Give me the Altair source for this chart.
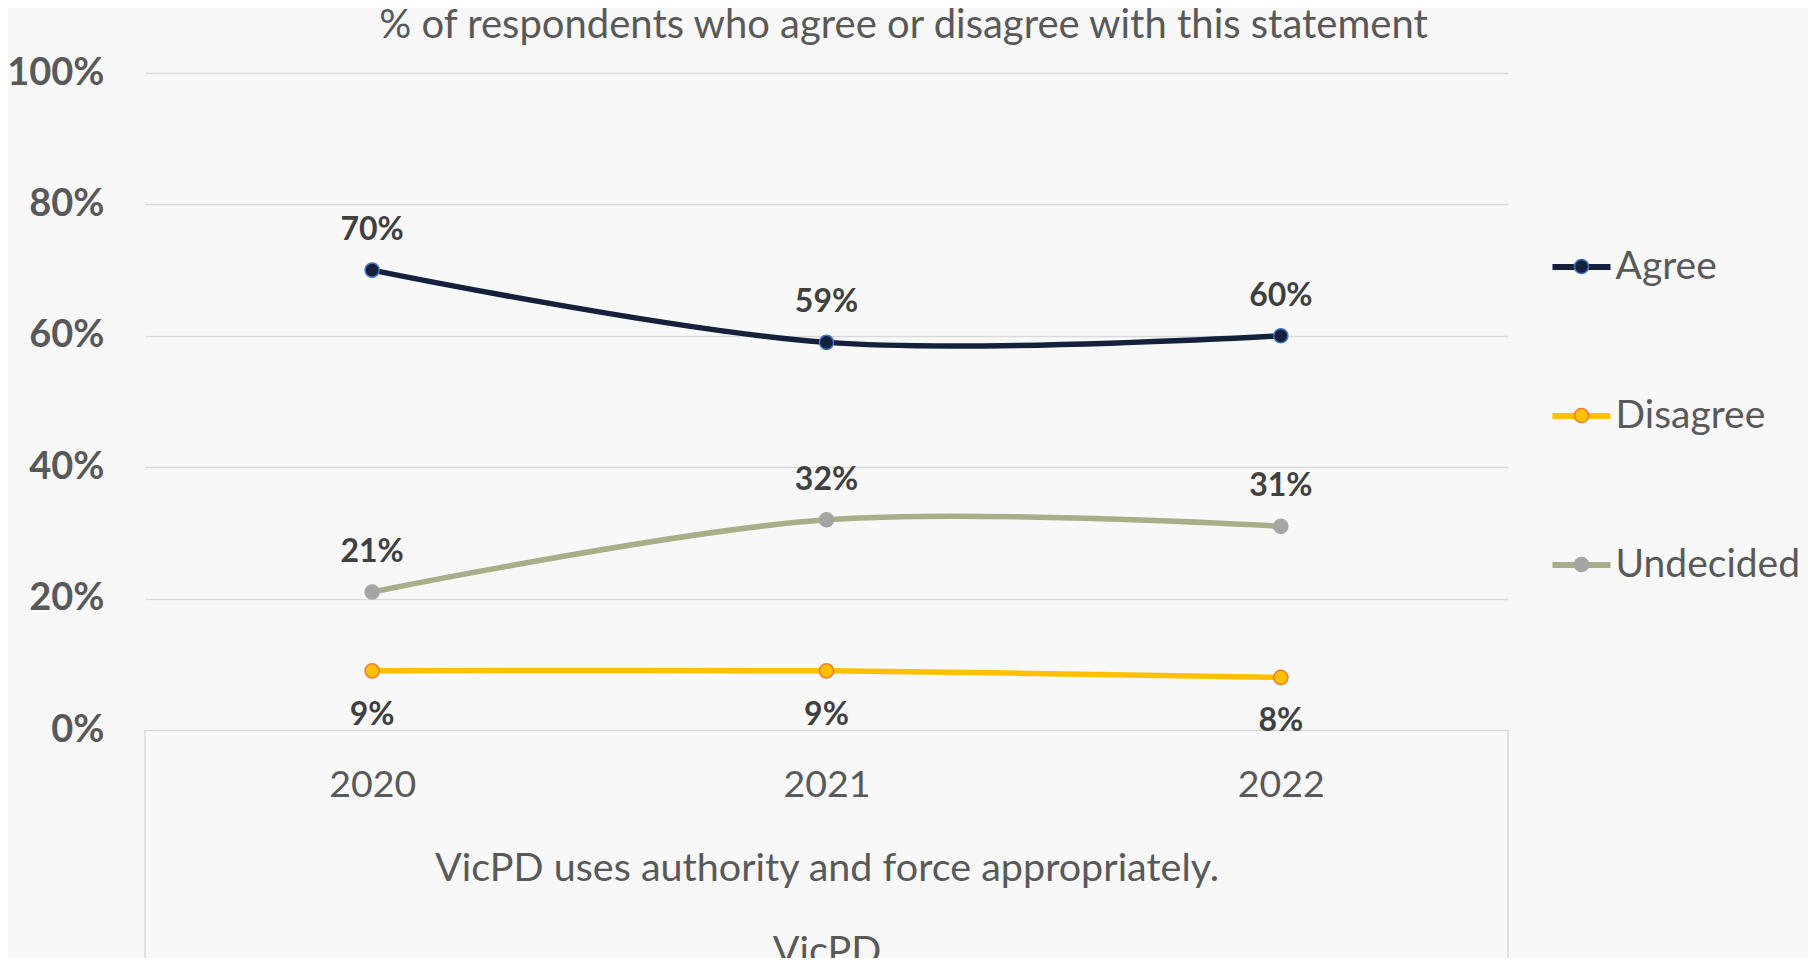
import altair as alt
import pandas as pd

years = ["2020", "2021", "2022"]
series = ["Agree", "Disagree", "Undecided"]
agree = [0.70, 0.59, 0.60]
disagree = [0.09, 0.09, 0.08]
undecided = [0.21, 0.32, 0.31]

line_colors = ["#13213C", "#FFC000", "#A6AF87"]
marker_fills = ["#13213C", "#FFC000", "#A5A5A5"]
marker_strokes = ["#4472C4", "#ED7D31", "#A5A5A5"]

title_text = "% of respondents who agree or disagree with this statement"
x_title = ["VicPD uses authority and force appropriately.", "VicPD"]

rows = []
for s, vals in zip(series, [agree, disagree, undecided]):
    for yr, v in zip(years, vals):
        rows.append({"year": yr, "series": s, "series_pt": s, "value": v,
                     "label": f"{round(v * 100)}%"})
df = pd.DataFrame(rows)

W, H = 1363, 657
FONT = "Lato"
GREY = "#595959"

x_enc = alt.X("year:N", scale=alt.Scale(type="point", padding=0.5),
              axis=alt.Axis(title=x_title, labelAngle=0, ticks=False, tickSize=0,
                            domain=False, grid=False, labelFont=FONT, labelFontSize=37.5,
                            labelColor=GREY, labelPadding=36, titleFont=FONT,
                            titleFontSize=39.5, titleFontWeight="normal", titleColor=GREY,
                            titlePadding=46, titleLineHeight=83))
y_enc = alt.Y("value:Q", scale=alt.Scale(domain=[0, 1], nice=False),
              axis=alt.Axis(title=None, format=".0%", values=[0, 0.2, 0.4, 0.6, 0.8, 1.0],
                            ticks=False, domain=False, grid=True, gridColor="#D9D9D9",
                            gridWidth=1.5, labelFont=FONT, labelFontSize=38,
                            labelFontWeight="bold", labelColor=GREY, labelPadding=41))

base = alt.Chart(df)

lines = base.mark_line(strokeWidth=5.5, interpolate="catmull-rom").encode(
    x=x_enc, y=y_enc,
    color=alt.Color("series:N", scale=alt.Scale(domain=series, range=line_colors),
                    legend=alt.Legend(orient="none", legendX=1404.5, legendY=162, title=None,
                                      symbolType="stroke", symbolSize=3364,
                                      symbolStrokeWidth=6, labelFont=FONT, labelFontSize=39,
                                      labelColor=GREY, labelOffset=2, labelLimit=400,
                                      rowPadding=97, padding=0)),
)

pt_legend = alt.Legend(orient="none", legendX=1417, legendY=174, title=None,
                       symbolSize=200, symbolStrokeWidth=1.5, labelFont=FONT,
                       labelFontSize=39, labelExpr="''", labelLimit=400, rowPadding=109,
                       padding=0)
points = base.mark_point(filled=True, shape="circle", size=200, strokeWidth=1.5,
                         opacity=1).encode(
    x=x_enc, y=y_enc,
    fill=alt.Fill("series_pt:N", scale=alt.Scale(domain=series, range=marker_fills),
                  legend=pt_legend),
    stroke=alt.Stroke("series_pt:N", scale=alt.Scale(domain=series, range=marker_strokes),
                      legend=pt_legend),
)

text_style = dict(font=FONT, fontSize=32, fontWeight="bold", color="#404040",
                  baseline="middle", align="center")
labels_above = base.transform_filter(alt.datum.series != "Disagree").mark_text(
    dy=-40, **text_style).encode(x=x_enc, y=y_enc, text="label:N")
labels_below = base.transform_filter(alt.datum.series == "Disagree").mark_text(
    dy=44, **text_style).encode(x=x_enc, y=y_enc, text="label:N")

edge_style = dict(color="#D9D9D9", strokeWidth=1.5)
left_edge = alt.Chart(alt.Data(values=[{}])).mark_rule(**edge_style).encode(
    x=alt.value(0), y=alt.value(H), y2=alt.value(H + 300))
right_edge = alt.Chart(alt.Data(values=[{}])).mark_rule(**edge_style).encode(
    x=alt.value(W), y=alt.value(H), y2=alt.value(H + 300))

chart = alt.layer(left_edge, right_edge, lines, points, labels_above, labels_below).resolve_legend(
    color="independent", fill="independent", stroke="independent"
).properties(
    width=W, height=H,
    title=alt.TitleParams(title_text, font=FONT, fontSize=40, fontWeight="normal",
                          color=GREY, anchor="middle", dx=77, offset=8),
    autosize=alt.AutoSizeParams(type="none"),
    padding={"left": 137, "top": 65, "right": 300, "bottom": 228},
    background="#F8F8F8",
).configure_view(stroke=None)

chart.save("out.html", embed_options={"renderer": "svg", "actions": False})
